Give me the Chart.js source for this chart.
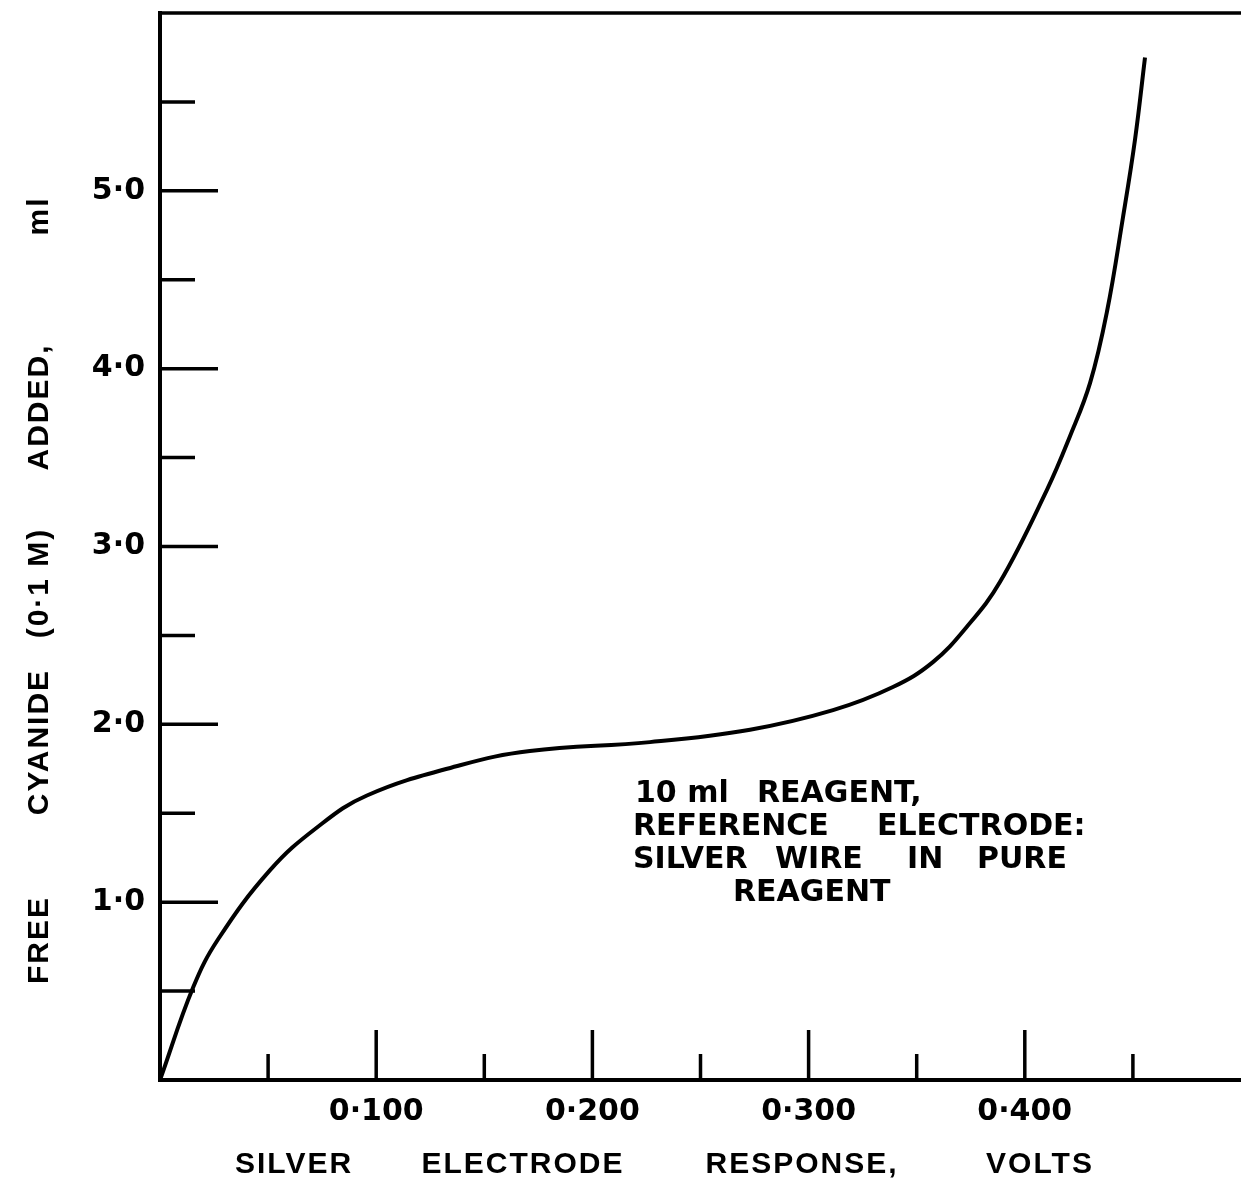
<!DOCTYPE html>
<html>
<head>
<meta charset="utf-8">
<script src="https://cdn.jsdelivr.net/npm/chart.js@4.4.1/dist/chart.umd.min.js"></script>
<style>
html, body { margin: 0; padding: 0; background: #fff; }
#wrap { width: 1241px; height: 1198px; }
</style>
</head>
<body>
<div id="wrap"><canvas id="responseChart" width="1241" height="1198"></canvas></div>
<script>
// silver electrode response (volts) against free cyanide added (ml)
var voltage = [0, 0.0153, 0.0268, 0.0509, 0.0726, 0.0957, 0.1388, 0.1711, 0.2266, 0.2729, 0.3113, 0.3390, 0.3575, 0.3733, 0.3885, 0.4103, 0.4209, 0.4302, 0.4380, 0.4454, 0.4510, 0.4556];
var cyanide = [0, 0.52, 0.79, 1.18, 1.42, 1.60, 1.77, 1.85, 1.90, 1.97, 2.08, 2.21, 2.35, 2.55, 2.80, 3.32, 3.62, 3.92, 4.32, 4.85, 5.29, 5.75];

var xMajor = [0.1, 0.2, 0.3, 0.4];
var xMinor = [0.05, 0.15, 0.25, 0.35, 0.45];
var xLabels = ['0·100', '0·200', '0·300', '0·400'];
var yMajor = [1, 2, 3, 4, 5];
var yMinor = [0.5, 1.5, 2.5, 3.5, 4.5, 5.5];
var yLabels = ['1·0', '2·0', '3·0', '4·0', '5·0'];

var xTitle = ['SILVER', 'ELECTRODE', 'RESPONSE,', 'VOLTS'];
var yTitle = ['FREE', 'CYANIDE', '(0·1 M)', 'ADDED,', 'ml'];
var noteLines = [['10 ml', 'REAGENT,'], ['REFERENCE', 'ELECTRODE:'], ['SILVER', 'WIRE', 'IN', 'PURE'], ['REAGENT']];

var points = voltage.map(function (v, i) { return { x: v, y: cyanide[i] }; });

var tickFont = '"DejaVu Sans", "Liberation Sans", sans-serif';

// ticks pointing into the plot, frame top line, titles and the note
var drawExtras = {
    id: 'drawExtras',
    afterDraw: function (chart) {
        var ctx = chart.ctx, a = chart.chartArea;
        var xs = chart.scales.x, ys = chart.scales.y;
        ctx.save();
        ctx.strokeStyle = '#000';
        ctx.lineWidth = 3.5;
        ctx.beginPath();
        ctx.moveTo(a.left - 2, a.top);
        ctx.lineTo(a.right, a.top);
        yMajor.forEach(function (v) {
            var p = ys.getPixelForValue(v);
            ctx.moveTo(a.left, p); ctx.lineTo(a.left + 58, p);
        });
        yMinor.forEach(function (v) {
            var p = ys.getPixelForValue(v);
            ctx.moveTo(a.left, p); ctx.lineTo(a.left + 35, p);
        });
        xMajor.forEach(function (v) {
            var p = xs.getPixelForValue(v);
            ctx.moveTo(p, a.bottom); ctx.lineTo(p, a.bottom - 50);
        });
        xMinor.forEach(function (v) {
            var p = xs.getPixelForValue(v);
            ctx.moveTo(p, a.bottom); ctx.lineTo(p, a.bottom - 26);
        });
        ctx.stroke();

        ctx.fillStyle = '#000';
        ctx.textBaseline = 'middle';
        ctx.textAlign = 'center';
        ctx.font = 'bold 30px "Liberation Sans", Arial, sans-serif';
        ctx.letterSpacing = '2px';
        // x title words
        var xPos = [294, 523, 802, 1040];
        xTitle.forEach(function (w, i) { ctx.fillText(w, xPos[i], 1165); });
        // y title words, rotated
        var yPos = [940, 742, 583, 407, 216];
        yTitle.forEach(function (w, i) {
            ctx.save();
            ctx.translate(40, yPos[i]);
            ctx.rotate(-Math.PI / 2);
            ctx.fillText(w, 0, 0);
            ctx.restore();
        });
        // note
        ctx.letterSpacing = '0px';
        ctx.textAlign = 'left';
        ctx.font = 'bold 30px ' + tickFont;
        var noteX = [[635, 757], [633, 877], [633, 775, 907, 977], [733]];
        var noteY = [794, 827, 860, 893];
        noteLines.forEach(function (line, j) {
            line.forEach(function (w, k) { ctx.fillText(w, noteX[j][k], noteY[j]); });
        });
        ctx.restore();
    }
};

var ctxResp = document.getElementById('responseChart').getContext('2d');
new Chart(ctxResp, {
    type: 'scatter',
    data: {
        datasets: [{
            data: points,
            showLine: true,
            borderColor: '#000',
            borderWidth: 4,
            pointRadius: 0,
            tension: 0.4,
            fill: false
        }]
    },
    options: {
        responsive: false,
        animation: false,
        devicePixelRatio: 1,
        layout: { padding: { top: 13, right: 0, left: 0, bottom: 0 } },
        plugins: { legend: { display: false }, tooltip: { enabled: false } },
        scales: {
            x: {
                type: 'linear',
                min: 0,
                max: 0.5,
                grid: { display: false, drawTicks: false },
                border: { display: true, color: '#000', width: 4 },
                afterBuildTicks: function (scale) {
                    scale.ticks = xMajor.map(function (v) { return { value: v }; });
                },
                afterFit: function (scale) {
                    scale.height = 118;
                    scale.paddingLeft = 0;
                    scale.paddingRight = 0;
                },
                ticks: {
                    padding: 14,
                    color: '#000',
                    font: { family: tickFont, size: 30, weight: 'bold' },
                    maxRotation: 0,
                    callback: function (v) {
                        var i = xMajor.indexOf(v);
                        return i < 0 ? '' : xLabels[i];
                    }
                }
            },
            y: {
                type: 'linear',
                min: 0,
                max: 6,
                grid: { display: false, drawTicks: false },
                border: { display: true, color: '#000', width: 4 },
                afterBuildTicks: function (scale) {
                    scale.ticks = yMajor.map(function (v) { return { value: v }; });
                },
                afterFit: function (scale) {
                    scale.width = 160;
                    scale.paddingTop = 0;
                    scale.paddingBottom = 0;
                },
                ticks: {
                    padding: 15,
                    color: '#000',
                    font: { family: tickFont, size: 30, weight: 'bold' },
                    callback: function (v) {
                        var i = yMajor.indexOf(v);
                        return i < 0 ? '' : yLabels[i];
                    }
                }
            }
        }
    },
    plugins: [drawExtras]
});
</script>
</body>
</html>
